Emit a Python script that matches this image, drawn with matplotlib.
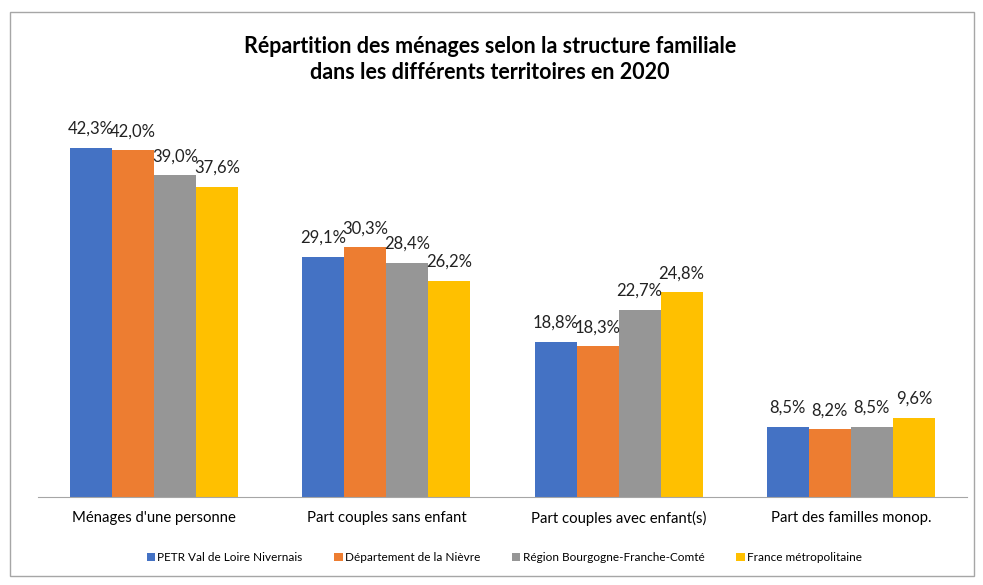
import matplotlib.pyplot as plt
import numpy as np
from matplotlib.patches import Rectangle

categories = ["Ménages d'une personne", "Part couples sans enfant",
              "Part couples avec enfant(s)", "Part des familles monop."]
series = ["PETR Val de Loire Nivernais", "Département de la Nièvre",
          "Région Bourgogne-Franche-Comté", "France métropolitaine"]
values = [
    [42.3, 29.1, 18.8, 8.5],
    [42.0, 30.3, 18.3, 8.2],
    [39.0, 28.4, 22.7, 8.5],
    [37.6, 26.2, 24.8, 9.6],
]
colors = ["#4472C4", "#ED7D31", "#969696", "#FFC000"]

plt.rcParams["font.family"] = ["Lato", "DejaVu Sans"]

fig = plt.figure(figsize=(9.83, 5.85), dpi=100)
ax = fig.add_axes([0.0387, 0.1504, 0.945, 0.635])

x = np.arange(len(categories))
width = 0.181
for i, (name, vals, c) in enumerate(zip(series, values, colors)):
    pos = x + (i - 1.5) * width
    bars = ax.bar(pos, vals, width, color=c, label=name)
    for b, v in zip(bars, vals):
        ax.text(b.get_x() + b.get_width() / 2, v + 1.3, f"{v:.1f}%".replace(".", ","),
                ha="center", va="bottom", fontsize=12, color="#222222", clip_on=False)

ax.set_xlim(-0.5, len(categories) - 0.5)
ax.set_ylim(0, 45)
ax.set_yticks([])
ax.set_xticks(x)
ax.set_xticklabels(categories, fontsize=10.7)
ax.tick_params(axis="x", length=0, pad=10)
for s in ["top", "right", "left"]:
    ax.spines[s].set_visible(False)
ax.spines["bottom"].set_color("#A6A6A6")

fig.text(0.4985, 0.898, "Répartition des ménages selon la structure familiale\ndans les différents territoires en 2020",
         ha="center", va="center", fontsize=15.5, fontweight="bold", linespacing=1.3)

fig.legend(loc="center", bbox_to_anchor=(0.513, 0.047), ncol=4, fontsize=8.5,
           frameon=False, handlelength=0.7, handleheight=0.7, handletextpad=0.2,
           columnspacing=2.7)

fig.patches.append(Rectangle((10 / 983, 9 / 585), 964 / 983, 564 / 585, transform=fig.transFigure,
                             fill=False, edgecolor="#A6A6A6", lw=1))

fig.savefig("out.png", dpi=100)
